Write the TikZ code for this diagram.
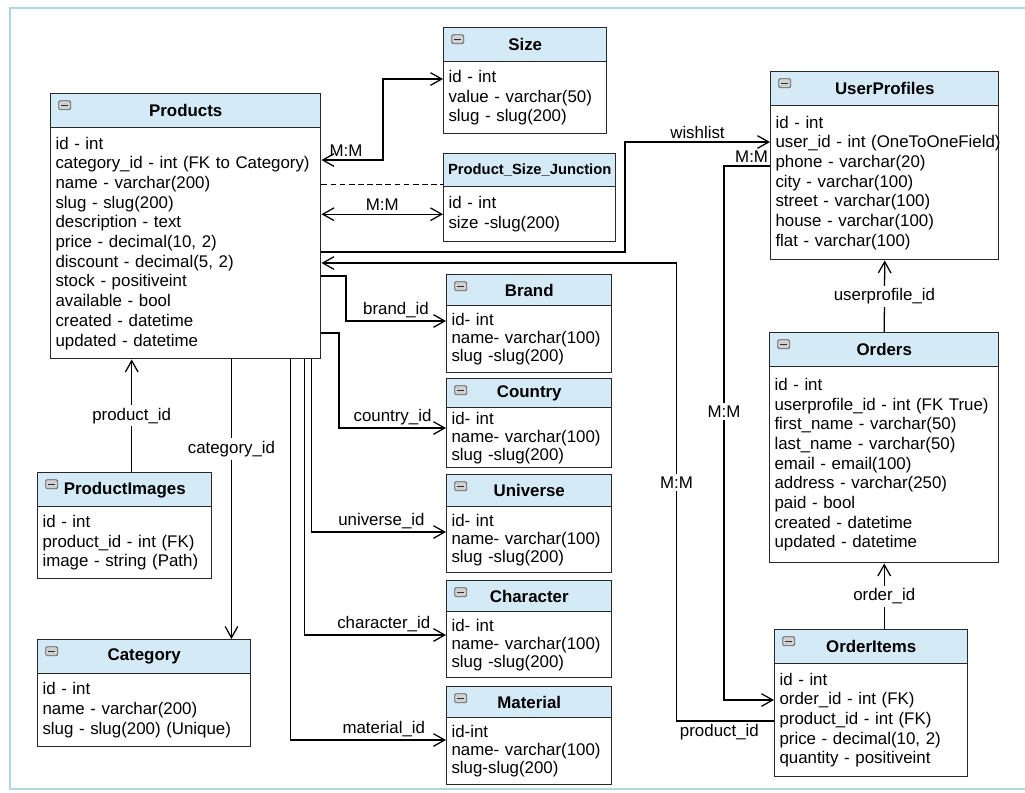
\documentclass[tikz,border=0pt]{standalone}
\usepackage{fontspec}
\setmainfont{Liberation Sans}
\usetikzlibrary{calc}
\usetikzlibrary{positioning}
\usetikzlibrary{arrows.meta}
\definecolor{hdr}{RGB}{212,234,246}
\definecolor{frm}{RGB}{176,214,226}
\definecolor{bx}{RGB}{40,40,40}
\definecolor{ic}{RGB}{150,150,150}

\begin{document}
\begin{tikzpicture} [
    x=0.025cm, y=-0.025cm,
    line width=0.9pt,
    >={Straight Barb[length=8pt,width=9pt]},
    hd/.style={
        font=\fontsize{12}{14}\selectfont\bfseries,
        draw=bx, fill=hdr, line width=1pt,
        minimum width=#1, minimum height=0.85cm,
        inner sep=0pt, anchor=north west
    },
    hdm/.style={
        hd=#1,
        path picture={
            \draw [draw=ic!60!black, fill=ic!45, rounded corners=1pt, line width=0.6pt]
                ($(path picture bounding box.north west)+(8,7)$) rectangle ++(12,9);
            \draw [ic!30!black, line width=0.9pt]
                ($(path picture bounding box.north west)+(10.5,11.5)$) -- ++(7,0);
        }
    },
    tb/.style={
        font=\fontsize{12}{14}\selectfont,
        draw=bx, fill=white, line width=1pt,
        align=left, inner xsep=0.12cm, inner ysep=0pt,
        text width=#1
    },
    tbs/.style={
        tb=#1,
        font=\fontsize{12}{12.8}\selectfont
    },
    lbl/.style={
        font=\fontsize{12}{14}\selectfont,
        inner sep=2pt
    },
    dsh/.style={dash pattern=on 4pt off 2.5pt}
]

\useasboundingbox (0,0) rectangle (1025,792);
\draw [frm, line width=1.5pt] (10,8) rectangle (1045,789);

% tables
\node [hdm=6.75cm] (prodh) at (50,93) {Products};
\node [tb=6.51cm, minimum height=5.775cm, below=-\pgflinewidth of prodh] (prod) {%
    id - int\\ \mbox{category\_id - int (FK to Category)}\\ name - varchar(200)\\
    slug - slug(200)\\ description - text\\ price - decimal(10, 2)\\
    discount - decimal(5, 2)\\ stock - positiveint\\ available - bool\\
    created - datetime\\ updated - datetime};

\node [hdm=4.075cm] (sizeh) at (443,27) {Size};
\node [tb=3.835cm, minimum height=1.8cm, below=-\pgflinewidth of sizeh] (size) {%
    id - int\\ value - varchar(50)\\ slug - slug(200)};

\node [hd=4.3cm, minimum height=0.825cm, font=\fontsize{10.5}{12}\selectfont\bfseries]
    (jnh) at (443,153) {Product\_Size\_Junction};
\node [tb=4.06cm, minimum height=1.375cm, below=-\pgflinewidth of jnh] (jn) {%
    id - int\\ size -slug(200)};

\node [hdm=5.7cm] (uph) at (770,71) {UserProfiles};
\node [tb=5.46cm, minimum height=3.85cm, below=-\pgflinewidth of uph] (up) {%
    id - int\\ \mbox{user\_id - int (OneToOneField)}\\ phone - varchar(20)\\
    city - varchar(100)\\ street - varchar(100)\\ house - varchar(100)\\
    flat - varchar(100)};

\node [hdm=4.125cm, minimum height=0.775cm] (brh) at (446,274) {Brand};
\node [tbs=3.885cm, minimum height=1.675cm, below=-\pgflinewidth of brh] (br) {%
    id- int\\ \mbox{name- varchar(100)}\\ slug -slug(200)};

\node [hdm=4.125cm, minimum height=0.725cm] (coh) at (446,378) {Country};
\node [tbs=3.885cm, minimum height=1.5cm, below=-\pgflinewidth of coh] (co) {%
    id- int\\ \mbox{name- varchar(100)}\\ slug -slug(200)};

\node [hdm=4.125cm, minimum height=0.8cm] (unh) at (446,474) {Universe};
\node [tbs=3.885cm, minimum height=1.65cm, below=-\pgflinewidth of unh] (un) {%
    id- int\\ \mbox{name- varchar(100)}\\ slug -slug(200)};

\node [hdm=4.125cm, minimum height=0.775cm] (chh) at (446,580) {Character};
\node [tbs=3.885cm, minimum height=1.65cm, below=-\pgflinewidth of chh] (ch) {%
    id- int\\ \mbox{name- varchar(100)}\\ slug -slug(200)};

\node [hdm=4.125cm, minimum height=0.775cm] (math) at (446,686) {Material};
\node [tbs=3.885cm, minimum height=1.675cm, below=-\pgflinewidth of math] (mat) {%
    id-int\\ \mbox{name- varchar(100)}\\ slug-slug(200)};

\node [hdm=4.35cm] (pih) at (37,472) {ProductImages};
\node [tb=4.11cm, minimum height=1.8cm, below=-\pgflinewidth of pih] (pi) {%
    id - int\\ product\_id - int (FK)\\ image - string (Path)};

\node [hdm=5.325cm] (cath) at (37,639) {Category};
\node [tb=5.085cm, minimum height=1.825cm, below=-\pgflinewidth of cath] (cat) {%
    id - int\\ name - varchar(200)\\ slug - slug(200) (Unique)};

\node [hdm=5.725cm] (ordh) at (769,332) {Orders};
\node [tb=5.485cm, minimum height=4.9cm, below=-\pgflinewidth of ordh] (ord) {%
    id - int\\ \mbox{userprofile\_id - int (FK True)}\\ first\_name - varchar(50)\\
    last\_name - varchar(50)\\ email - email(100)\\ address - varchar(250)\\
    paid - bool\\ created - datetime\\ updated - datetime};

\node [hdm=4.825cm] (oih) at (774,629) {OrderItems};
\node [tb=4.585cm, minimum height=2.825cm, below=-\pgflinewidth of oih] (oi) {%
    id - int\\ order\_id - int (FK)\\ product\_id - int (FK)\\
    price - decimal(10, 2)\\ quantity - positiveint};

% size relations
\draw [<->] ($(prod.north east)+(0,33)$) -| node [lbl, above, pos=0.2] (mm1) {M:M}
    ($(size.north west)+(-60,18)$) -- ($(size.north west)+(0,18)$);
\coordinate (jd) at ($(jnh.south west)+(0,-3)$);
\draw [dsh] (jd -| prod.east) -- (jd);
\draw [<->] (prod.east |- jn.west) -- node [lbl, above] (mm2) {M:M} (jn.west);

% wishlist
\draw [->] ($(prod.north east)+(0,125)$) -| ($(up.north west)+(-145,37)$)
    -- node [lbl, above] (wl) {wishlist} ($(up.north west)+(0,37)$);

% order items
\draw [->] ($(oi.north west)+(0,58)$) -| node [lbl, below, pos=0.28] (pid2) {product\_id}
    node [lbl, fill=white, pos=0.76] (mm3) {M:M}
    ($(prod.north east)+(355,136)$) -- ($(prod.north east)+(0,136)$);
\draw [->] ($(up.north west)+(0,61)$) -| node [lbl, above, pos=0.2] (mm4) {M:M}
    node [lbl, fill=white, pos=0.73] (mm5) {M:M}
    ($(oi.north west)+(-50,37)$) -- ($(oi.north west)+(0,37)$);
\draw [->] (ordh.north) -- node [lbl, fill=white] (upid) {userprofile\_id} (up.south);
\draw [->] (oih.north -| ord.south) -- node [lbl, fill=white] (oid) {order\_id} (ord.south);

% product foreign keys
\coordinate (pitop) at ($(pih.north)+(7,0)$);
\draw [->] (pitop) -- node [lbl, fill=white] (pid1) {product\_id} (pitop |- prod.south);
\coordinate (cattop) at ($(cath.north east)+(-20,0)$);
\draw [->] (cattop |- prod.south) -- node [lbl, fill=white, pos=0.32] (catid) {category\_id} (cattop);

\draw [->] ($(prod.north east)+(0,149)$) -| ($(br.north west)+(-100,16)$)
    -- node [lbl, above] (brid) {brand\_id} ($(br.north west)+(0,16)$);
\draw [->] ($(prod.north east)+(0,206)$) -| ($(co.north west)+(-107,21)$)
    -- node [lbl, above] (coid) {country\_id} ($(co.north west)+(0,21)$);
\draw [->] ($(prod.south east)+(-10,0)$) |- node [lbl, above, pos=0.76] (unid) {universe\_id}
    ($(un.north west)+(0,26)$);
\draw [->] ($(prod.south east)+(-17,0)$) |- node [lbl, above, pos=0.78] (chid) {character\_id}
    ($(ch.north west)+(0,24)$);
\draw [->] ($(prod.south east)+(-31,0)$) |- node [lbl, above, pos=0.8] (maid) {material\_id}
    ($(mat.north west)+(0,23)$);

\end{tikzpicture}
\end{document}
